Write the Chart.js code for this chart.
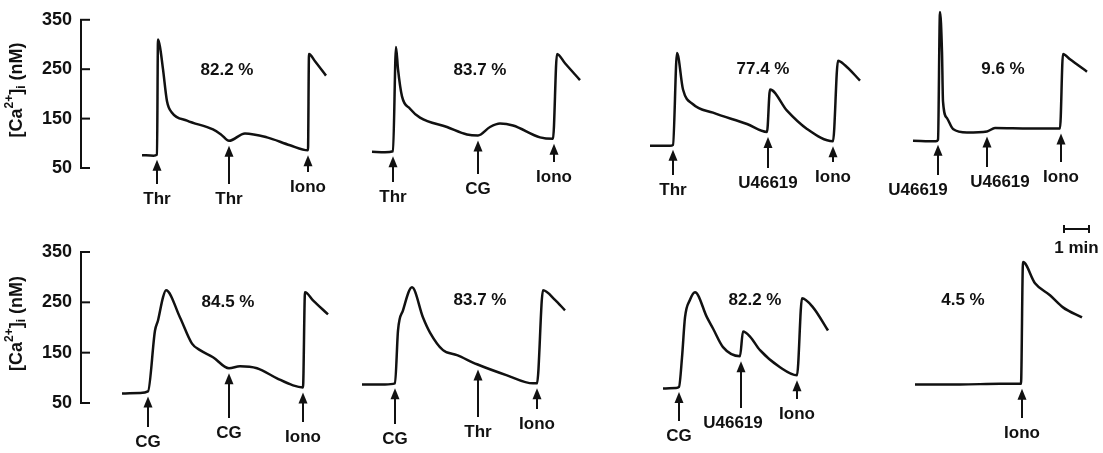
<!DOCTYPE html>
<html>
<head>
<meta charset="utf-8">
<script src="https://cdn.jsdelivr.net/npm/chart.js@4.4.0/dist/chart.umd.min.js"></script>
<style>
body { margin: 0; background: #fff; }
#top { position: absolute; left: 0; top: 0; width: 1103px; height: 260px; }
#bot { position: absolute; left: 0; top: 220px; width: 1103px; height: 233px; }
</style>
</head>
<body>
<div id="top"><canvas id="topChart"></canvas></div>
<div id="bot"><canvas id="botChart"></canvas></div>
<script>
// time in minutes, [Ca2+]i in nM
// top row
var t1 = [2.44, 2.9, 3.04, 3.08, 3.16, 3.28, 3.44, 3.64, 4.24, 5.28, 5.6, 5.92, 6.56, 7.44, 8.36, 9.08, 9.12, 9.36, 9.8];
var c1 = [76, 75, 77, 310, 295, 250, 185, 162, 146, 128, 118, 105, 120, 112, 96, 86, 281, 266, 237];
var t2 = [11.64, 12.16, 12.48, 12.6, 12.68, 12.84, 13.16, 13.56, 14.64, 15.44, 15.88, 16.36, 16.76, 17.28, 18.36, 18.88, 19.04, 19.36, 19.96];
var c2 = [83, 82, 84, 295, 250, 195, 170, 152, 133, 118, 116, 133, 140, 136, 112, 109, 281, 262, 228];
var t3 = [22.76, 23.56, 23.68, 23.84, 24.08, 24.48, 25.28, 26.64, 27.44, 27.56, 28.24, 29.04, 30.08, 30.28, 30.56, 31.16];
var c3 = [95, 95, 97, 283, 209, 179, 162, 139, 123, 209, 166, 129, 104, 267, 258, 227];
var t4 = [33.28, 34.2, 34.28, 34.36, 34.44, 34.48, 34.64, 34.88, 35.44, 36.24, 36.56, 37.96, 39.16, 39.28, 39.56, 40.24];
var c4 = [105, 104, 107, 366, 285, 185, 151, 129, 122, 124, 131, 130, 130, 281, 270, 245];
// bottom row
var t5 = [1.64, 2.36, 2.68, 2.96, 3.08, 3.28, 3.4, 3.96, 4.44, 4.76, 5.28, 5.92, 6.36, 7.04, 7.84, 8.48, 8.88, 8.96, 9.28, 9.88];
var c5 = [69, 70, 73, 194, 214, 260, 274, 220, 168, 155, 141, 119, 123, 119, 99, 85, 81, 270, 254, 226];
var t6 = [11.24, 12.16, 12.56, 12.68, 12.88, 13.24, 13.68, 13.96, 14.48, 15.04, 15.84, 17.04, 18.08, 18.24, 18.48, 18.96, 19.36];
var c6 = [87, 87, 89, 194, 234, 280, 220, 190, 155, 145, 127, 105, 89, 89, 274, 255, 234];
var t7 = [23.28, 23.8, 23.92, 24.04, 24.16, 24.36, 24.56, 25.04, 25.28, 25.68, 26.36, 26.48, 26.76, 27.16, 27.96, 28.64, 28.84, 29.28, 29.88];
var c7 = [79, 80, 82, 140, 220, 255, 270, 220, 198, 161, 143, 192, 182, 155, 121, 105, 258, 240, 194];
var t8 = [33.36, 35.16, 36.76, 37.6, 37.68, 38.16, 38.76, 39.28, 40.04];
var c8 = [87, 87, 88, 88, 330, 288, 264, 240, 220];

var yTicks = [50, 150, 250, 350];

// additions (arrows)
var addTopAt = [3.04, 5.92, 9.08, 12.48, 15.88, 18.92, 23.68, 27.48, 30.08, 34.28, 36.24, 39.2];
var addTopName = ['Thr', 'Thr', 'Iono', 'Thr', 'CG', 'Iono', 'Thr', 'U46619', 'Iono', 'U46619', 'U46619', 'Iono'];
var addBotAt = [2.68, 5.92, 8.88, 12.56, 15.88, 18.24, 23.92, 26.4, 28.64, 37.64];
var addBotName = ['CG', 'CG', 'Iono', 'CG', 'Thr', 'Iono', 'CG', 'U46619', 'Iono', 'Iono'];

// percent inhibition labels
var pctTop = ['82.2 %', '83.7 %', '77.4 %', '9.6 %'];
var pctBot = ['84.5 %', '83.7 %', '82.2 %', '4.5 %'];

// label placement (style, not data)
var arrowEndTop = [184, 184, 172, 182, 174, 162, 175, 168, 162, 175, 167, 162];
var labelDxTop = [0, 0, 0, 0, 0, 0, 0, 0, 0, -20, 13, 0];
var arrowEndBot = [207, 198, 202, 204, 197, 189, 201, 188, 179, 198];
var labelDxBot = [0, 0, 0, 0, 0, 0, 0, -8, 0, 0];
var pctTopAt = [[5.84, 247], [15.96, 247], [27.28, 249], [36.88, 249]];
var pctBotAt = [[5.88, 250], [15.96, 254], [26.96, 254], [35.28, 254]];

var FAMILY = '"Liberation Sans", Arial, sans-serif';
var FONT = 'bold 17px ' + FAMILY;

function pts(xs, ys) {
    return xs.map(function(x, i) { return {x: x, y: ys[i]}; });
}

function valueAt(chart, t) {
    var sets = chart.data.datasets;
    for (var k = 0; k < sets.length; k++) {
        var d = sets[k].data;
        if (t < d[0].x || t > d[d.length - 1].x) continue;
        for (var i = 1; i < d.length; i++) {
            if (d[i].x >= t) {
                var a = d[i - 1], b = d[i];
                if (Math.abs(b.y - a.y) > 40) return Math.min(a.y, b.y); // foot of a jump
                return a.y + (t - a.x) / (b.x - a.x) * (b.y - a.y);
            }
        }
    }
    return 50;
}

function drawTitle(ctx, cx, cy) {
    var parts = [
        ['[Ca', 18, 0], ['2+', 12, -7], [']', 18, 0], ['i', 12, 5], [' (nM)', 18, 0]
    ];
    ctx.save();
    ctx.fillStyle = '#111';
    ctx.translate(cx, cy);
    ctx.rotate(-Math.PI / 2);
    var w = 0;
    parts.forEach(function(p) {
        ctx.font = 'bold ' + p[1] + 'px ' + FAMILY;
        w += ctx.measureText(p[0]).width;
    });
    var x = -w / 2;
    ctx.textBaseline = 'middle';
    ctx.textAlign = 'left';
    parts.forEach(function(p) {
        ctx.font = 'bold ' + p[1] + 'px ' + FAMILY;
        ctx.fillText(p[0], x, p[2]);
        x += ctx.measureText(p[0]).width;
    });
    ctx.restore();
}

var notesPlugin = {
    id: 'traceNotes',
    afterDraw: function(chart) {
        var o = chart.options.plugins.traceNotes;
        var ctx = chart.ctx, xs = chart.scales.x, ys = chart.scales.y;
        ctx.save();
        ctx.fillStyle = '#111';
        ctx.strokeStyle = '#111';
        ctx.lineWidth = 2;

        // inward ticks
        yTicks.forEach(function(v) {
            var y = ys.getPixelForValue(v);
            ctx.beginPath();
            ctx.moveTo(xs.left - 1, y);
            ctx.lineTo(xs.left + 9, y);
            ctx.stroke();
        });

        ctx.font = FONT;
        ctx.textAlign = 'center';
        ctx.textBaseline = 'middle';

        o.at.forEach(function(t, i) {
            var px = Math.round(xs.getPixelForValue(t));
            var tip = ys.getPixelForValue(valueAt(chart, t)) + 5;
            var end = o.ends[i];
            ctx.beginPath();
            ctx.moveTo(px, tip);
            ctx.lineTo(px - 4.5, tip + 11);
            ctx.lineTo(px + 4.5, tip + 11);
            ctx.closePath();
            ctx.fill();
            ctx.beginPath();
            ctx.moveTo(px, tip + 8);
            ctx.lineTo(px, end);
            ctx.stroke();
            ctx.fillText(o.names[i], px + o.dx[i], end + 15);
        });

        o.pct.forEach(function(s, i) {
            ctx.fillText(s, xs.getPixelForValue(o.pctAt[i][0]), ys.getPixelForValue(o.pctAt[i][1]));
        });

        if (o.bar) {
            var a = xs.getPixelForValue(o.bar.from), b = xs.getPixelForValue(o.bar.from + 1);
            ctx.beginPath();
            ctx.moveTo(a, o.bar.y); ctx.lineTo(b, o.bar.y);
            ctx.moveTo(a, o.bar.y - 4); ctx.lineTo(a, o.bar.y + 4);
            ctx.moveTo(b, o.bar.y - 4); ctx.lineTo(b, o.bar.y + 4);
            ctx.stroke();
            ctx.fillText('1 min', (a + b) / 2, o.bar.y + 19);
        }
        ctx.restore();

        drawTitle(ctx, 17, (ys.top + ys.bottom) / 2 - 4);
    }
};

function traceSet(xs, ys) {
    return {
        data: pts(xs, ys),
        borderColor: '#111',
        borderWidth: 2.5,
        pointRadius: 0,
        borderJoinStyle: 'round',
        cubicInterpolationMode: 'monotone',
        clip: false
    };
}

function makeChart(id, sets, pad, notes) {
    return new Chart(document.getElementById(id), {
        type: 'line',
        data: { datasets: sets },
        plugins: [notesPlugin],
        options: {
            responsive: true,
            maintainAspectRatio: false,
            animation: false,
            events: [],
            layout: { padding: { top: pad[0], bottom: pad[1], left: 0, right: 0 } },
            scales: {
                x: { type: 'linear', min: 0, max: 1022 / 25, display: false },
                y: {
                    min: 50, max: 350,
                    afterFit: function(s) { s.width = 81; },
                    afterBuildTicks: function(s) { s.ticks = yTicks.map(function(v) { return {value: v}; }); },
                    grid: { display: false, drawTicks: false },
                    border: { display: true, color: '#111', width: 2 },
                    ticks: { padding: 9, color: '#111', font: { size: 18, weight: 'bold', family: FAMILY } }
                }
            },
            plugins: {
                legend: { display: false },
                tooltip: { enabled: false },
                traceNotes: notes
            }
        }
    });
}

makeChart('topChart',
    [traceSet(t1, c1), traceSet(t2, c2), traceSet(t3, c3), traceSet(t4, c4)],
    [17, 92],
    { at: addTopAt, names: addTopName, ends: arrowEndTop, dx: labelDxTop, pct: pctTop, pctAt: pctTopAt,
      bar: { from: 39.32, y: 229 } });

makeChart('botChart',
    [traceSet(t5, c5), traceSet(t6, c6), traceSet(t7, c7), traceSet(t8, c8)],
    [32, 50],
    { at: addBotAt, names: addBotName, ends: arrowEndBot, dx: labelDxBot, pct: pctBot, pctAt: pctBotAt });
</script>
</body>
</html>
